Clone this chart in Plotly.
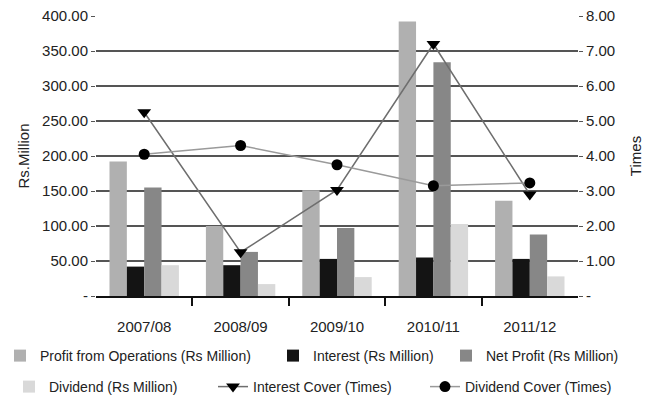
import plotly.graph_objects as go

years = ["2007/08", "2008/09", "2009/10", "2010/11", "2011/12"]
profit_ops = [192, 100, 151, 392, 136]
interest = [42, 44, 53, 55, 53]
net_profit = [155, 63, 97, 334, 88]
dividend = [44, 17, 27, 103, 28]
interest_cover = [5.25, 1.25, 3.03, 7.2, 2.9]
dividend_cover = [4.05, 4.3, 3.75, 3.15, 3.23]

left_ticks = [0, 50, 100, 150, 200, 250, 300, 350, 400]
right_ticks = [0, 1, 2, 3, 4, 5, 6, 7, 8]

W, H = 648, 396
tick_font = dict(family="Liberation Sans, Arial, sans-serif", size=15, color="#222")
leg_font = dict(family="Liberation Sans, Arial, sans-serif", size=14, color="#222")

fig = go.Figure()
fig.add_trace(go.Bar(x=years, y=profit_ops, name="Profit from Operations (Rs Million)",
                     marker=dict(color="#b0b0b0", line=dict(width=0)), legend="legend"))
fig.add_trace(go.Bar(x=years, y=interest, name="Interest (Rs Million)",
                     marker=dict(color="#141414", line=dict(width=0)), legend="legend2"))
fig.add_trace(go.Bar(x=years, y=net_profit, name="Net Profit (Rs Million)",
                     marker=dict(color="#878787", line=dict(width=0)), legend="legend3"))
fig.add_trace(go.Bar(x=years, y=dividend, name="Dividend (Rs Million)",
                     marker=dict(color="#d9d9d9", line=dict(width=0)), legend="legend4"))
fig.add_trace(go.Scatter(x=years, y=interest_cover, name="Interest Cover (Times)", yaxis="y2",
                         mode="lines+markers", line=dict(color="#6e6e6e", width=1.5),
                         marker=dict(symbol="triangle-down", size=12, color="#000"), legend="legend5"))
fig.add_trace(go.Scatter(x=years, y=dividend_cover, name="Dividend Cover (Times)", yaxis="y2",
                         mode="lines+markers", line=dict(color="#9a9a9a", width=1.5),
                         marker=dict(symbol="circle", size=11, color="#000"), legend="legend6"))
# invisible trace to carry boundary tick marks on overlay x axis
fig.add_trace(go.Scatter(x=[0], y=[None], xaxis="x2", showlegend=False, hoverinfo="skip"))


def leg(text_x, center_y):
    return dict(orientation="h", x=(text_x - 40) / W, xanchor="left", xref="container",
                y=1 - center_y / H, yanchor="middle", yref="container",
                font=leg_font, bgcolor="rgba(0,0,0,0)", itemwidth=30)


fig.update_layout(
    width=W, height=H,
    margin=dict(l=96, r=70, t=16, b=100, autoexpand=False),
    paper_bgcolor="white", plot_bgcolor="white",
    barmode="group", bargap=0.28, bargroupgap=0,
    xaxis=dict(type="category", showgrid=False, showline=True, linecolor="#111", linewidth=1.5,
               ticks="", tickfont=tick_font, range=[-0.5, 4.5], ticklabelstandoff=16),
    xaxis2=dict(overlaying="x", range=[-0.5, 4.5], tickvals=[0.5, 1.5, 2.5, 3.5],
                ticks="outside", ticklen=9, tickcolor="#111", tickwidth=1.5,
                showticklabels=False, showgrid=False, zeroline=False, side="bottom", anchor="y"),
    yaxis=dict(range=[0, 400], tickvals=left_ticks,
               ticktext=["-" if v == 0 else f"{v:.2f}" for v in left_ticks],
               showgrid=True, gridcolor="#555", gridwidth=1.5, zeroline=False,
               ticks="outside", ticklen=4, tickcolor="#555",
               tickfont=tick_font,
               title=dict(text="Rs.Million", font=dict(family="Liberation Sans, Arial, sans-serif", size=15, color="#222"), standoff=8)),
    yaxis2=dict(range=[0, 8], tickvals=right_ticks, overlaying="y", side="right",
                ticktext=["-" if v == 0 else f"{v:.2f}" for v in right_ticks],
                showgrid=False, zeroline=False, ticks="outside", ticklen=4, tickcolor="#555",
                tickfont=tick_font,
                title=dict(text="Times", font=dict(family="Liberation Sans, Arial, sans-serif", size=15, color="#222"), standoff=16)),
    legend=leg(37, 356),
    legend2=leg(313, 356),
    legend3=leg(486, 356),
    legend4=leg(49, 387),
    legend5=leg(253, 387),
    legend6=leg(465, 387),
    showlegend=True,
)

fig.write_html("out.html")
